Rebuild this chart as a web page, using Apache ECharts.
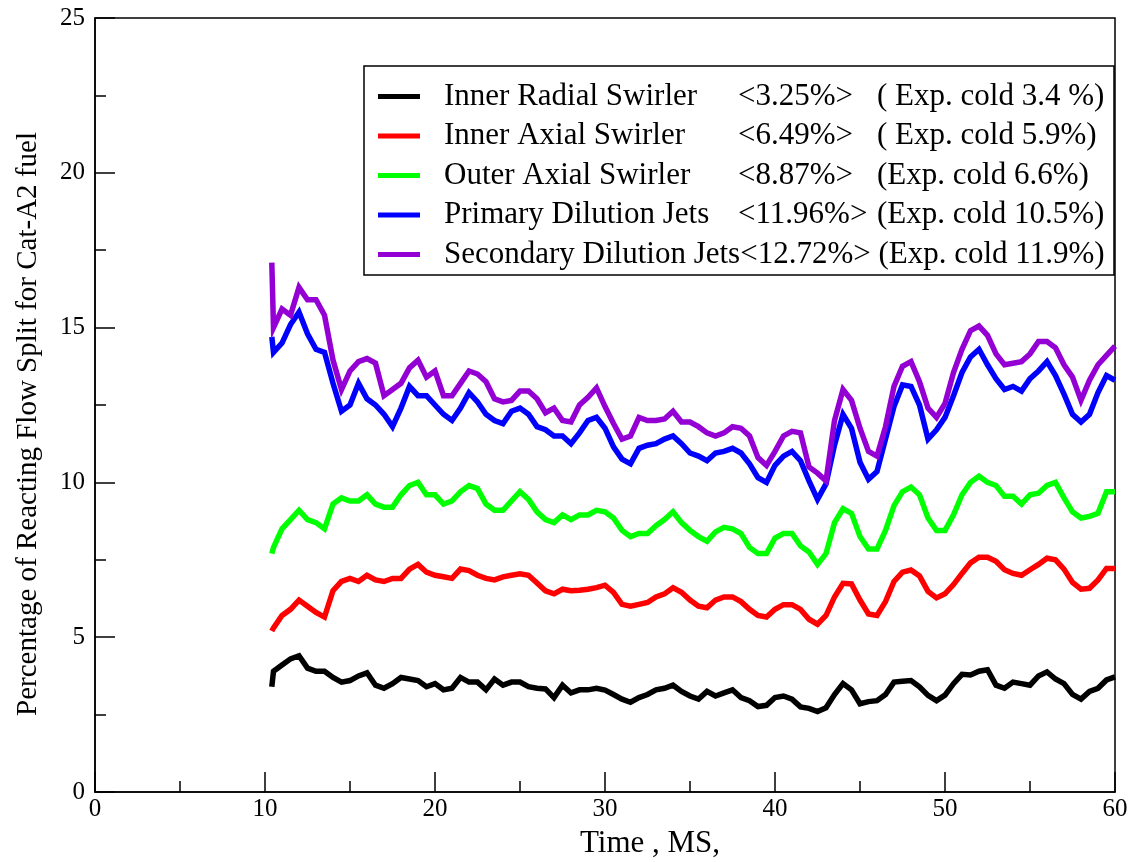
<!DOCTYPE html>
<html>
<head>
<meta charset="utf-8">
<title>Reacting Flow Split</title>
<script src="https://cdn.jsdelivr.net/npm/echarts@6/dist/echarts.min.js"></script>
<style>
  html, body { margin: 0; padding: 0; background: #ffffff; }
  #chart { width: 1132px; height: 862px; }
</style>
</head>
<body>
<div id="chart"></div>
<script>
// Sample times (ms)
const time = [10.4, 10.5, 11, 11.5, 12, 12.5, 13, 13.5, 14, 14.5, 15, 15.5, 16, 16.5, 17, 17.5, 18, 18.5, 19, 19.5,
  20, 20.5, 21, 21.5, 22, 22.5, 23, 23.5, 24, 24.5, 25, 25.5, 26, 26.5, 27, 27.5, 28, 28.5, 29, 29.5,
  30, 30.5, 31, 31.5, 32, 32.5, 33, 33.5, 34, 34.5, 35, 35.5, 36, 36.5, 37, 37.5, 38, 38.5, 39, 39.5,
  40, 40.5, 41, 41.5, 42, 42.5, 43, 43.5, 44, 44.5, 45, 45.5, 46, 46.5, 47, 47.5, 48, 48.5, 49, 49.5,
  50, 50.5, 51, 51.5, 52, 52.5, 53, 53.5, 54, 54.5, 55, 55.5, 56, 56.5, 57, 57.5, 58, 58.5, 59, 59.5, 60];

// Flow split (%) per injector passage
const innerRadial = [3.4, 3.9, 4.1, 4.3, 4.4, 4.0, 3.9, 3.9, 3.7, 3.55, 3.6, 3.75, 3.85, 3.45, 3.35, 3.5, 3.7, 3.65, 3.6, 3.4,
  3.5, 3.3, 3.35, 3.7, 3.55, 3.55, 3.3, 3.65, 3.45, 3.55, 3.55, 3.4, 3.35, 3.33, 3.05, 3.45, 3.2, 3.3, 3.3, 3.35,
  3.29, 3.15, 3.0, 2.9, 3.05, 3.15, 3.3, 3.35, 3.45, 3.25, 3.1, 3.0, 3.25, 3.1, 3.2, 3.3, 3.05, 2.95, 2.76, 2.8,
  3.05, 3.1, 3.0, 2.75, 2.7, 2.6, 2.72, 3.15, 3.5, 3.3, 2.85, 2.92, 2.95, 3.15, 3.55, 3.58, 3.6, 3.4, 3.12, 2.95,
  3.13, 3.5, 3.8, 3.78, 3.9, 3.95, 3.45, 3.35, 3.55, 3.5, 3.45, 3.75, 3.88, 3.65, 3.5, 3.15, 3.0, 3.25, 3.35, 3.62, 3.72];

const innerAxial = [5.2, 5.3, 5.7, 5.9, 6.2, 6.0, 5.8, 5.65, 6.5, 6.8, 6.9, 6.8, 7.0, 6.85, 6.8, 6.9, 6.9, 7.2, 7.35, 7.1,
  7.0, 6.95, 6.9, 7.2, 7.15, 7.0, 6.9, 6.85, 6.95, 7.0, 7.05, 7.0, 6.75, 6.5, 6.4, 6.55, 6.5, 6.52, 6.55, 6.6,
  6.68, 6.45, 6.06, 6.0, 6.06, 6.12, 6.3, 6.4, 6.6, 6.45, 6.2, 6.0, 5.95, 6.2, 6.3, 6.3, 6.15, 5.9, 5.7, 5.65,
  5.9, 6.05, 6.05, 5.9, 5.58, 5.42, 5.7, 6.3, 6.74, 6.72, 6.2, 5.75, 5.7, 6.15, 6.8, 7.1, 7.17, 6.98, 6.48, 6.27,
  6.4, 6.7, 7.06, 7.4, 7.58, 7.58, 7.45, 7.18, 7.06, 7.0, 7.18, 7.35, 7.55, 7.5, 7.2, 6.77, 6.55, 6.58, 6.85, 7.22, 7.22];

const outerAxial = [7.7, 7.9, 8.5, 8.8, 9.1, 8.8, 8.7, 8.5, 9.3, 9.5, 9.4, 9.4, 9.6, 9.3, 9.2, 9.2, 9.6, 9.9, 10.0, 9.6,
  9.6, 9.3, 9.4, 9.7, 9.9, 9.8, 9.3, 9.1, 9.1, 9.4, 9.7, 9.45, 9.05, 8.8, 8.7, 8.95, 8.8, 8.95, 8.95, 9.1,
  9.05, 8.85, 8.45, 8.25, 8.35, 8.35, 8.6, 8.8, 9.05, 8.7, 8.45, 8.25, 8.1, 8.4, 8.55, 8.5, 8.35, 7.9, 7.7, 7.7,
  8.2, 8.35, 8.35, 7.95, 7.75, 7.35, 7.7, 8.7, 9.15, 9.0, 8.25, 7.85, 7.85, 8.45, 9.25, 9.7, 9.85, 9.6, 8.85, 8.45,
  8.45, 8.95, 9.6, 10.0, 10.2, 10.0, 9.9, 9.55, 9.55, 9.3, 9.6, 9.65, 9.9, 10.0, 9.5, 9.05, 8.85, 8.9, 9.0, 9.7, 9.7];

const primaryJets = [14.7, 14.2, 14.5, 15.1, 15.5, 14.8, 14.3, 14.2, 13.2, 12.3, 12.5, 13.2, 12.7, 12.5, 12.2, 11.8, 12.4, 13.1, 12.8, 12.8,
  12.5, 12.2, 12.0, 12.4, 12.9, 12.6, 12.2, 12.0, 11.9, 12.3, 12.4, 12.2, 11.8, 11.7, 11.5, 11.5, 11.25, 11.6, 12.0, 12.1,
  11.75, 11.15, 10.75, 10.6, 11.1, 11.2, 11.25, 11.4, 11.5, 11.25, 10.95, 10.85, 10.7, 10.95, 11.0, 11.1, 10.95, 10.6, 10.15, 10.0,
  10.55, 10.85, 11.0, 10.7, 10.05, 9.45, 9.95, 11.2, 12.2, 11.75, 10.65, 10.1, 10.35, 11.4, 12.45, 13.15, 13.1, 12.5, 11.4, 11.7,
  12.1, 12.8, 13.55, 14.05, 14.3, 13.8, 13.35, 13.0, 13.1, 12.95, 13.35, 13.6, 13.9, 13.45, 12.85, 12.2, 11.95, 12.2, 12.9, 13.45, 13.3];

const secondaryJets = [17.1, 15.0, 15.6, 15.4, 16.3, 15.9, 15.9, 15.4, 13.95, 13.0, 13.6, 13.9, 14.0, 13.85, 12.8, 13.0, 13.2, 13.7, 13.95, 13.4,
  13.6, 12.8, 12.8, 13.2, 13.6, 13.5, 13.25, 12.7, 12.6, 12.65, 12.95, 12.95, 12.7, 12.25, 12.4, 12.0, 11.95, 12.5, 12.75, 13.05,
  12.45, 11.9, 11.4, 11.5, 12.1, 12.0, 12.0, 12.05, 12.3, 11.95, 11.95, 11.8, 11.6, 11.5, 11.6, 11.8, 11.75, 11.5, 10.8, 10.55,
  11.0, 11.5, 11.65, 11.6, 10.5, 10.3, 10.05, 12.0, 13.0, 12.65, 11.75, 11.0, 10.85, 11.8, 13.1, 13.75, 13.9, 13.25, 12.4, 12.1,
  12.55, 13.55, 14.3, 14.9, 15.05, 14.75, 14.15, 13.8, 13.85, 13.9, 14.15, 14.55, 14.55, 14.35, 13.8, 13.4, 12.65, 13.3, 13.8, 14.1, 14.4];

// Legend texts
const seriesNames = ['Inner Radial Swirler', 'Inner Axial Swirler', 'Outer Axial Swirler', 'Primary Dilution Jets', 'Secondary Dilution Jets'];
const meanLabels = ['<3.25%>', '<6.49%>', '<8.87%>', '<11.96%>', '<12.72%>'];
const expLabels = ['( Exp. cold 3.4 %)', '( Exp. cold 5.9%)', '(Exp. cold 6.6%)', '(Exp. cold 10.5%)', ' (Exp. cold 11.9%)'];
const seriesColors = ['#000000', '#ff0000', '#00ff00', '#0000ff', '#9400d3'];
const seriesValues = [innerRadial, innerAxial, outerAxial, primaryJets, secondaryJets];

const xTicks = { min: 0, max: 60, interval: 10 };
const yTicks = { min: 0, max: 25, interval: 5 };

const SERIF = "'Liberation Serif', 'Times New Roman', Times, serif";
const LEGEND_FONT = 31;

const chart = echarts.init(document.getElementById('chart'), null, { renderer: 'canvas' });

const series = seriesNames.map((name, k) => ({
  name: name,
  type: 'line',
  data: time.map((t, i) => [t, seriesValues[k][i]]),
  showSymbol: false,
  symbol: 'none',
  smooth: false,
  lineStyle: { color: seriesColors[k], width: 5.5, join: 'miter' },
  itemStyle: { color: seriesColors[k] },
  emphasis: { disabled: true },
  z: 2 + k
}));

const axisCommon = {
  axisLine: { show: true, onZero: false, lineStyle: { color: '#000', width: 1.5 } },
  axisTick: { show: true, inside: true, length: 20, lineStyle: { color: '#000', width: 1.5 } },
  minorTick: { show: true, splitNumber: 2, length: 11, lineStyle: { color: '#000', width: 1.5 } },
  splitLine: { show: false },
  minorSplitLine: { show: false },
  axisLabel: { color: '#000', fontFamily: SERIF, fontSize: 25 }
};

function legendStyle(extra) {
  return Object.assign({ fontFamily: SERIF, fontSize: LEGEND_FONT, color: '#000', lineHeight: 31 }, extra);
}

const option = {
  backgroundColor: '#ffffff',
  animation: false,
  grid: {
    left: 95, right: 17, top: 18, bottom: 70,
    show: true, borderColor: '#000', borderWidth: 1.5, backgroundColor: 'transparent'
  },
  xAxis: Object.assign({}, axisCommon, {
    type: 'value',
    min: xTicks.min, max: xTicks.max, interval: xTicks.interval,
    axisLabel: Object.assign({}, axisCommon.axisLabel, { margin: 5 })
  }),
  yAxis: Object.assign({}, axisCommon, {
    type: 'value',
    min: yTicks.min, max: yTicks.max, interval: yTicks.interval,
    axisLabel: Object.assign({}, axisCommon.axisLabel, { margin: 10 })
  }),
  legend: {
    orient: 'vertical',
    left: 378 - 14,
    top: 66,
    padding: [15, 10, 10, 14],
    itemGap: 8.5,
    itemWidth: 42,
    itemHeight: 5,
    icon: 'rect',
    selectedMode: false,
    data: seriesNames,
    formatter: function (name) {
      const k = seriesNames.indexOf(name);
      if (k === seriesNames.length - 1) {
        return '{w|' + name + meanLabels[k] + expLabels[k] + '}';
      }
      return '{n|' + name + '}{v|' + meanLabels[k] + '}{e|' + expLabels[k] + '}';
    },
    textStyle: {
      color: '#000',
      fontFamily: SERIF,
      fontSize: LEGEND_FONT,
      rich: {
        n: legendStyle({ width: 294, padding: [0, 0, 0, 19] }),
        v: legendStyle({ width: 139 }),
        e: legendStyle({}),
        w: legendStyle({ padding: [0, 0, 0, 19] })
      }
    }
  },
  graphic: [
    {
      type: 'rect',
      shape: { x: 364, y: 66, width: 750, height: 209 },
      style: { fill: 'rgba(0,0,0,0)', stroke: '#000', lineWidth: 1.5 },
      silent: true,
      z: 100
    },
    {
      type: 'text',
      x: 650, y: 844,
      style: { text: 'Time , MS,', font: '31px ' + SERIF, fill: '#000', textAlign: 'center', textVerticalAlign: 'middle' },
      silent: true
    },
    {
      type: 'text',
      x: 28, y: 424,
      rotation: Math.PI / 2,
      style: { text: 'Percentage of Reacting Flow Split for Cat-A2 fuel', font: '29px ' + SERIF, fill: '#000', textAlign: 'center', textVerticalAlign: 'middle' },
      silent: true
    }
  ],
  series: series
};

chart.setOption(option);
</script>
</body>
</html>
